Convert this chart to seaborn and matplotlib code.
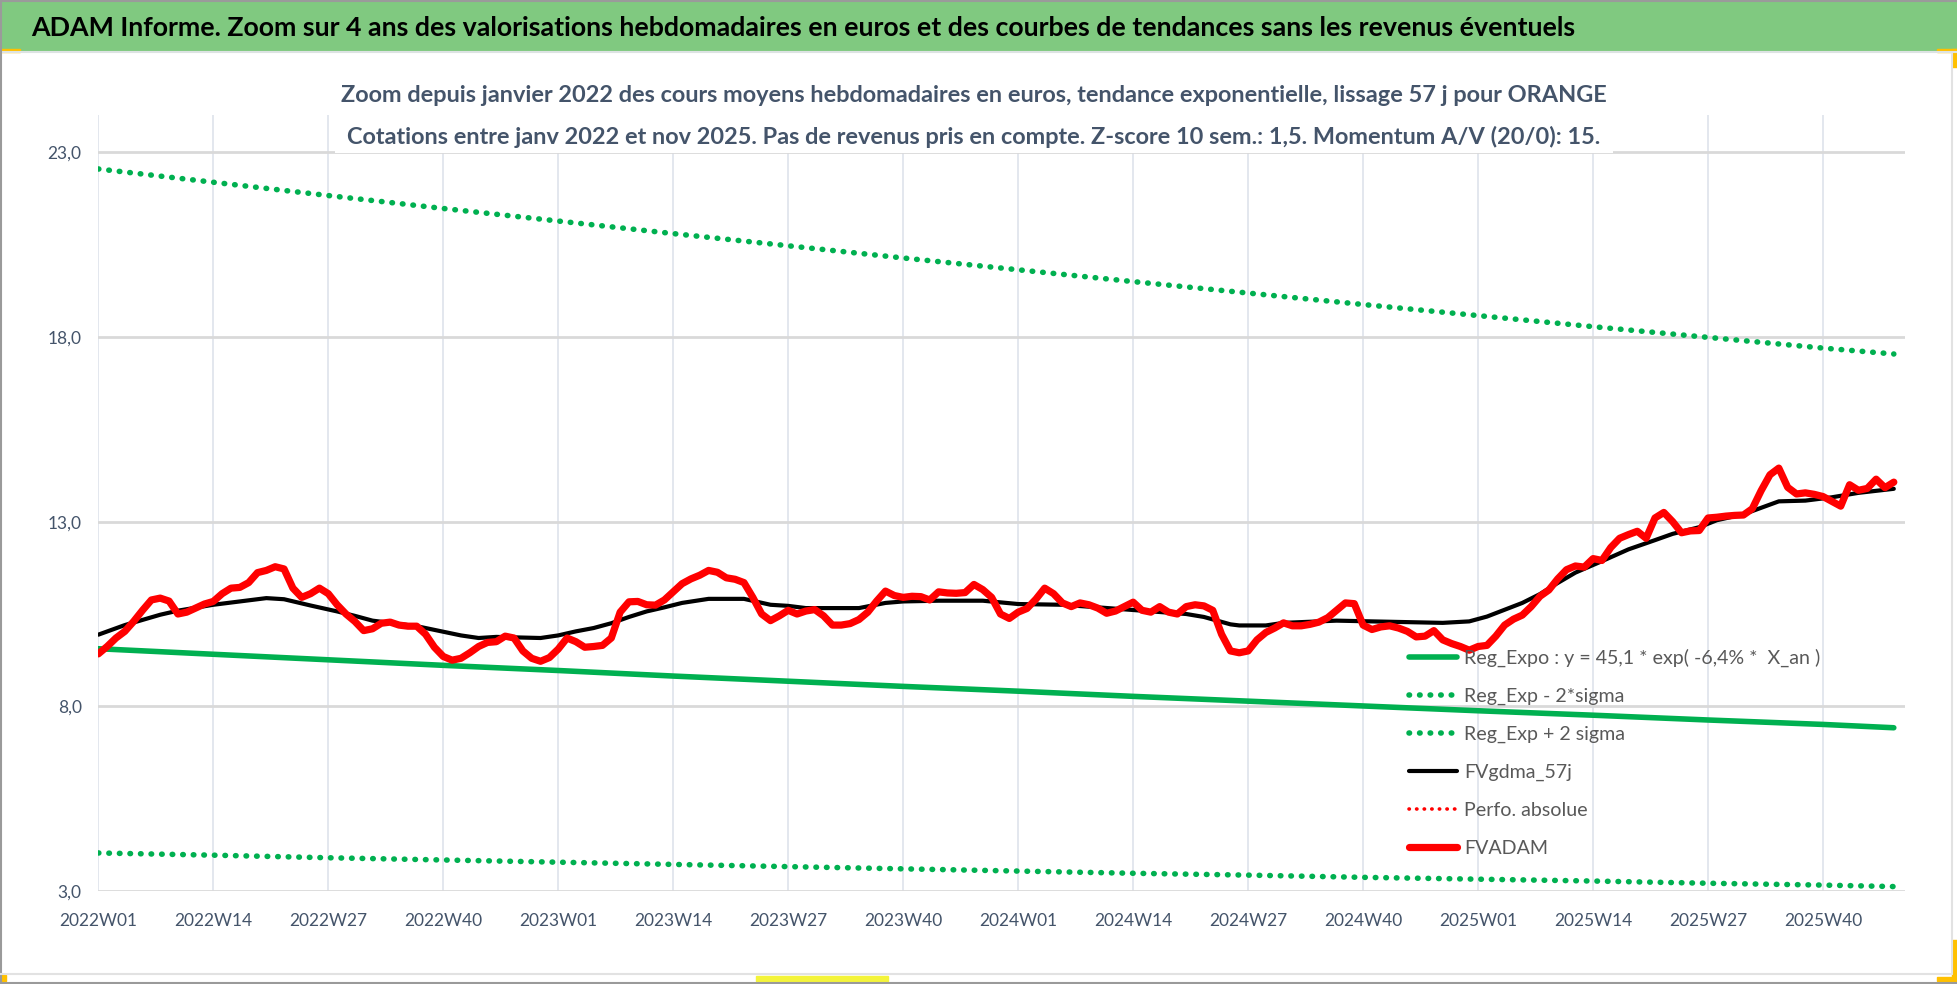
import matplotlib
matplotlib.use("Agg")
import matplotlib.pyplot as plt
from matplotlib.lines import Line2D
from matplotlib.patches import Rectangle
import seaborn as sns

# categories: ISO weeks 2022W01 .. 2025W48
weeks = ([f"2022W{w:02d}" for w in range(1, 53)] + [f"2023W{w:02d}" for w in range(1, 53)]
         + [f"2024W{w:02d}" for w in range(1, 53)] + [f"2025W{w:02d}" for w in range(1, 49)])

# FVADAM weekly average price
fvadam = [
    9.42, 9.62, 9.85, 10.03, 10.30, 10.60, 10.88, 10.93, 10.85, 10.50,
    10.55, 10.66, 10.77, 10.84, 11.05, 11.20, 11.22, 11.35, 11.62, 11.68,
    11.78, 11.72, 11.20, 10.95, 11.05, 11.20, 11.05, 10.75, 10.50, 10.30,
    10.05, 10.10, 10.25, 10.28, 10.20, 10.17, 10.17, 9.95, 9.60, 9.35,
    9.25, 9.30, 9.45, 9.62, 9.73, 9.75, 9.90, 9.85, 9.50, 9.30,
    9.22, 9.32, 9.55, 9.85, 9.75, 9.60, 9.62, 9.65, 9.85, 10.55,
    10.83, 10.84, 10.75, 10.74, 10.88, 11.10, 11.32, 11.45, 11.55, 11.68,
    11.63, 11.48, 11.44, 11.35, 10.95, 10.50, 10.32, 10.45, 10.60, 10.50,
    10.58, 10.62, 10.45, 10.20, 10.20, 10.24, 10.35, 10.55, 10.85, 11.12,
    11.00, 10.95, 10.98, 10.97, 10.88, 11.10, 11.07, 11.06, 11.08, 11.30,
    11.16, 10.95, 10.50, 10.38, 10.55, 10.65, 10.90, 11.20, 11.05, 10.80,
    10.70, 10.80, 10.75, 10.66, 10.52, 10.58, 10.70, 10.82, 10.60, 10.55,
    10.70, 10.55, 10.50, 10.70, 10.75, 10.72, 10.60, 9.95, 9.50, 9.45,
    9.50, 9.80, 10.00, 10.12, 10.26, 10.18, 10.18, 10.22, 10.28, 10.40,
    10.60, 10.80, 10.78, 10.20, 10.08, 10.15, 10.18, 10.12, 10.03, 9.88,
    9.90, 10.05, 9.80, 9.70, 9.62, 9.52, 9.62, 9.65, 9.90, 10.20,
    10.36, 10.47, 10.70, 10.98, 11.15, 11.45, 11.70, 11.80, 11.77, 12.00,
    11.95, 12.30, 12.55, 12.65, 12.74, 12.55, 13.10, 13.25, 13.00, 12.70,
    12.75, 12.76, 13.10, 13.12, 13.15, 13.17, 13.18, 13.35, 13.84, 14.27,
    14.45, 13.93, 13.75, 13.78, 13.74, 13.68, 13.55, 13.42, 14.00, 13.85,
    13.90, 14.15, 13.92, 14.07,
]

# FVgdma_57j smoothed curve, read at selected weeks
ma_week = [0, 3, 7, 9, 13, 16, 19, 21, 24, 27, 29, 31, 36, 41, 43, 45, 50, 52, 54, 56,
           58, 60, 62, 64, 66, 69, 73, 76, 78, 80, 82, 86, 89, 91, 95, 100, 104, 109, 113, 118,
           123, 125, 128, 129, 132, 134, 140, 144, 152, 155, 157, 161, 163, 165, 167, 170, 173, 176, 178, 181,
           183, 186, 190, 193, 196, 199, 203]
ma_vals = [9.94, 10.20, 10.48, 10.59, 10.75, 10.84, 10.93, 10.90, 10.73, 10.57, 10.45, 10.32, 10.17, 9.92, 9.85, 9.88, 9.85, 9.92, 10.03, 10.12,
           10.25, 10.42, 10.57, 10.68, 10.80, 10.91, 10.91, 10.75, 10.72, 10.66, 10.66, 10.66, 10.80, 10.84, 10.86, 10.86, 10.77, 10.75, 10.68, 10.59,
           10.50, 10.42, 10.22, 10.19, 10.19, 10.26, 10.32, 10.30, 10.26, 10.30, 10.43, 10.80, 11.04, 11.34, 11.62, 11.93, 12.25, 12.50, 12.67, 12.85,
           13.04, 13.20, 13.55, 13.57, 13.66, 13.78, 13.89]

# exponential trend and +/- 2 sigma bands, read at the tick weeks and the last week
trend_weeks = ["2022W01", "2022W14", "2022W27", "2022W40", "2023W01", "2023W14", "2023W27", "2023W40",
               "2024W01", "2024W14", "2024W27", "2024W40", "2025W01", "2025W14", "2025W27", "2025W40", "2025W48"]
reg_expo = [9.56, 9.41, 9.26, 9.11, 8.97, 8.82, 8.68, 8.54, 8.41, 8.27, 8.14, 8.01, 7.88, 7.76, 7.63, 7.51, 7.42]
reg_plus = [22.55, 22.19, 21.83, 21.48, 21.14, 20.80, 20.47, 20.14, 19.82, 19.50, 19.19, 18.88, 18.58, 18.28, 17.99, 17.70, 17.54]
reg_minus = [4.03, 3.97, 3.90, 3.84, 3.78, 3.72, 3.66, 3.60, 3.54, 3.48, 3.43, 3.37, 3.32, 3.27, 3.21, 3.16, 3.12]

y_ticks = [3, 8, 13, 18, 23]

title = "ADAM Informe. Zoom sur 4 ans des valorisations hebdomadaires en euros et des courbes de tendances sans les revenus éventuels"
subtitle = ("Zoom depuis janvier 2022 des cours moyens hebdomadaires en euros, tendance exponentielle, lissage 57 j pour ORANGE\n"
            "Cotations entre janv 2022 et nov 2025. Pas de revenus pris en compte. Z-score 10 sem.: 1,5. Momentum A/V (20/0): 15.")

GREEN = "#00B050"
TXT = "#44546A"

sns.set_theme(style="white")
plt.rcParams["font.family"] = ["Lato", "DejaVu Sans"]

W, H = 1958, 984
fig = plt.figure(figsize=(W / 100, H / 100), dpi=100)
fig.patch.set_facecolor("white")
ax = fig.add_axes([98.3 / W, 93 / H, 1807 / W, 775.6 / H])

x_all = list(range(len(weeks)))
x_trend = [weeks.index(w) for w in trend_weeks]
dots = dict(linestyle=(0, (0.1, 1.8)), dash_capstyle="round")

sns.lineplot(x=x_trend, y=reg_expo, ax=ax, color=GREEN, linewidth=4.0, solid_capstyle="round")
sns.lineplot(x=x_trend, y=reg_minus, ax=ax, color=GREEN, linewidth=4.0, **dots)
sns.lineplot(x=x_trend, y=reg_plus, ax=ax, color=GREEN, linewidth=4.0, **dots)
sns.lineplot(x=ma_week, y=ma_vals, ax=ax, color="black", linewidth=3.0)
sns.lineplot(x=x_all, y=fvadam, ax=ax, color="#FF0000", linewidth=5.2, solid_joinstyle="round")

ax.set_xlim(0, 204.3)
ax.set_ylim(3, 24)
ax.set_yticks(y_ticks)
ax.set_yticklabels([f"{v:.1f}".replace(".", ",") for v in y_ticks])
ax.set_xticks(x_all[::13])
ax.set_xticklabels(weeks[::13])
ax.set_xlabel("")
ax.set_ylabel("")
for s in ax.spines.values():
    s.set_visible(False)
ax.set_axisbelow(True)
ax.yaxis.grid(True, color="#D9D9D9", linewidth=2.0)
ax.xaxis.grid(True, color="#E3E7EE", linewidth=1.4)
ax.tick_params(axis="x", length=6.5, width=1.4, color="#E3E7EE", direction="out",
               pad=9, labelsize=12.5, labelcolor=TXT)
ax.tick_params(axis="y", length=0, pad=12, labelsize=12.5, labelcolor=TXT)

handles = [
    Line2D([], [], color=GREEN, lw=4.0, solid_capstyle="round"),
    Line2D([], [], color=GREEN, lw=4.0, **dots),
    Line2D([], [], color=GREEN, lw=4.0, **dots),
    Line2D([], [], color="black", lw=3.0),
    Line2D([], [], color="#FF0000", lw=2.6, linestyle=(0, (0.1, 2.0)), dash_capstyle="round"),
    Line2D([], [], color="#FF0000", lw=5.2, solid_capstyle="round"),
]
labels = ["Reg_Expo : y = 45,1 * exp( -6,4% *  X_an )", "Reg_Exp - 2*sigma", "Reg_Exp + 2 sigma",
          "FVgdma_57j", "Perfo. absolue", "FVADAM"]
leg = ax.legend(handles, labels, loc="upper left", bbox_to_anchor=(1409 / W, 1 - 649 / H),
                bbox_transform=fig.transFigure, frameon=False, fontsize=14.1,
                handlelength=2.45, handletextpad=0.36, labelspacing=1.06, borderpad=0, borderaxespad=0)
for t in leg.get_texts():
    t.set_color("#595959")

# banner and titles
fig.add_artist(Rectangle((0, 1 - 50 / H), 1, 48 / H, transform=fig.transFigure, color="#80C980", zorder=0))
fig.add_artist(Line2D([0, 1], [1 - 52 / H, 1 - 52 / H], transform=fig.transFigure, color="#DDE3E3", lw=1.5))
fig.text(31 / W, 1 - 28 / H, title, fontsize=19.3, fontweight="bold", color="black", va="center", ha="left")
fig.text(974 / W, 1 - 116.5 / H, subtitle, fontsize=16.9, fontweight="bold", color=TXT, ha="center",
         va="center", linespacing=2.05, bbox=dict(facecolor="white", edgecolor="none", pad=4), zorder=5)

# chart frame and selection handles
frame = dict(transform=fig.transFigure, color="#9A9A9A", lw=1.5)
fig.add_artist(Line2D([0.5 / W, 0.5 / W], [0, 1], **frame))
fig.add_artist(Line2D([0, 1], [1 - 1 / H, 1 - 1 / H], **frame))
fig.add_artist(Line2D([0, 1], [1 / H, 1 / H], **frame))
fig.add_artist(Line2D([1952 / W, 1952 / W], [10 / H, 1 - 53 / H], transform=fig.transFigure, color="#E2E2E2", lw=1.5))
fig.add_artist(Line2D([0, 1952 / W], [10 / H, 10 / H], transform=fig.transFigure, color="#E2E2E2", lw=1.5))
yel = "#FFC000"
for (x0, y0, w, h) in [(0, 49, 20, 3), (1937, 49, 21, 3), (1952, 49, 6, 18), (1952, 940, 6, 40),
                       (1937, 977, 21, 4), (0, 975, 6, 6)]:
    fig.add_artist(Rectangle((x0 / W, 1 - (y0 + h) / H), w / W, h / H, transform=fig.transFigure, color=yel))
fig.add_artist(Rectangle((756 / W, 1 - 981 / H), 132 / W, 5 / H, transform=fig.transFigure, color="#F4F43A"))

fig.savefig("out.png", dpi=100, facecolor="white")
